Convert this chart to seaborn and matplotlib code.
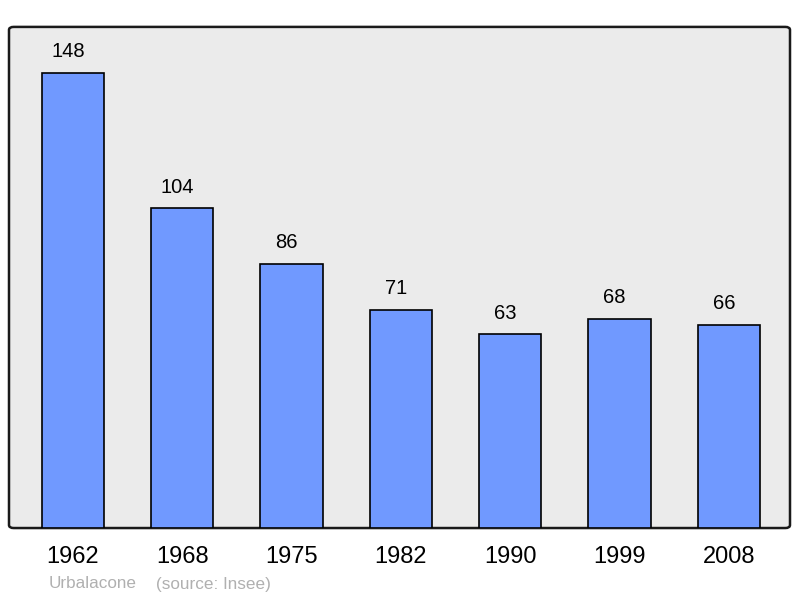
import matplotlib
matplotlib.use("Agg")
import matplotlib.pyplot as plt
import seaborn as sns
import pandas as pd
from matplotlib.patches import FancyBboxPatch

# data
years = ["1962", "1968", "1975", "1982", "1990", "1999", "2008"]
population = [148, 104, 86, 71, 63, 68, 66]

df = pd.DataFrame({"year": years, "population": population})

sns.set_style("white")
plt.rcParams["font.family"] = ["Liberation Sans", "DejaVu Sans"]

fig = plt.figure(figsize=(8, 5.98), dpi=100)
ax = fig.add_axes([0.01125, 0.117, 0.97625, 0.838])
ax.set_facecolor("none")

# rounded grey panel
panel = FancyBboxPatch((0, 0), 1, 1, boxstyle="round,pad=0,rounding_size=0.006",
                       transform=ax.transAxes, facecolor="#ebebeb",
                       edgecolor="#1a1a1a", linewidth=1.8, clip_on=False, zorder=0)
ax.add_patch(panel)

sns.barplot(data=df, x="year", y="population", color="#7099ff", saturation=1,
            edgecolor="black", linewidth=1.2, width=0.57, ax=ax, zorder=2)

# value labels, sitting a little left of the bar centre like the original
for i, v in enumerate(population):
    ax.text(i - 0.045, v + 3.8, str(v), ha="center", va="bottom", fontsize=14.5, color="black")

ax.set_xlim(-0.585, 6.56)
ax.set_ylim(0, 163)
for s in ax.spines.values():
    s.set_visible(False)
ax.set_yticks([])
ax.tick_params(axis="x", length=0, labelsize=17, pad=13, labelcolor="black")
ax.set_xlabel("")
ax.set_ylabel("")

fig.text(49 / 800, 1 - 584 / 598, "Urbalacone", color="#b0b0b0", fontsize=12.3, va="center")
fig.text(156 / 800, 1 - 584 / 598, "(source: Insee)", color="#b0b0b0", fontsize=12.3, va="center")

fig.savefig("out.png", dpi=100)
